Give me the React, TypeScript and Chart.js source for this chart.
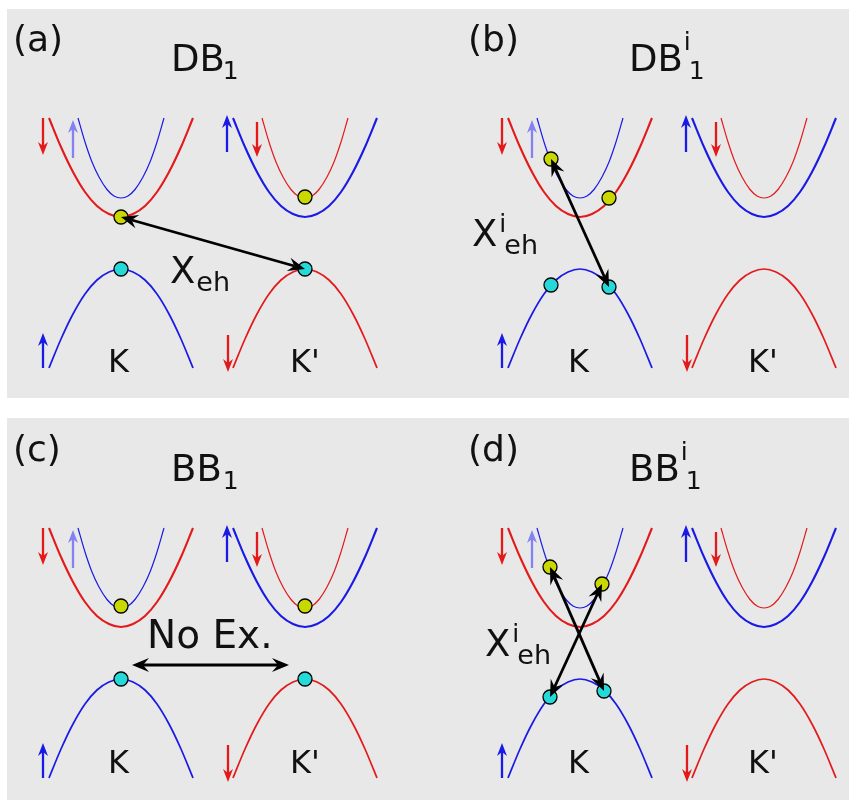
import React, { useEffect, useRef } from 'react';
import { Chart, registerables } from 'chart.js';

Chart.register(...registerables);

// ---------- colours ----------
const RED = '#e41a1a';
const BLUE = '#1a1ae6';
const LIGHT_BLUE = '#8282f2';
const YELLOW = '#c9d800';
const CYAN = '#26d9d9';
const PANEL_GRAY = '#e8e8e8';
const INK = '#111111';

// ---------- band structure data (k from valley centre, E from mid-gap) ----------
const valleyCentres = [0, 184]; // K, K'
const kWide = [-72, -60, -48, -36, -24, -12, 0, 12, 24, 36, 48, 60, 72];
const eLowerConduction = [125, 96, 71, 51, 37, 29, 26, 29, 37, 51, 71, 96, 125];
const eValence = [-125, -96, -71, -51, -37, -29, -26, -29, -37, -51, -71, -96, -125];
const kNarrow = [-43, -36, -29, -22, -14, -7, 0, 7, 14, 22, 29, 36, 43];
const eUpperConduction = [125, 101, 81, 66, 53.5, 47, 45, 47, 53.5, 66, 81, 101, 125];
// colours [lower CB, upper CB, VB] per valley
const bandColoursK = [RED, BLUE, BLUE];
const bandColoursKp = [BLUE, RED, RED];

// ---------- spin arrows ----------
const spinK = [-78, -48, 106, 136, -78, 107];
const spinFrom = [125, 85, 91, 121, -125, -92];
const spinTo = [88, 123, 128, 86, -90, -129];
const spinColours = [RED, LIGHT_BLUE, BLUE, RED, BLUE, RED];

// ---------- per-panel particles (electrons yellow, holes cyan) ----------
const electronsA = [{ x: 0, y: 26 }, { x: 184, y: 46 }];
const holesA = [{ x: 0, y: -26 }, { x: 184, y: -26 }];
const electronsB = [{ x: -29, y: 84 }, { x: 29, y: 45 }];
const holesB = [{ x: -29, y: -42 }, { x: 29, y: -44 }];
const electronsC = [{ x: 0, y: 47 }, { x: 184, y: 47 }];
const holesC = [{ x: 0, y: -26 }, { x: 184, y: -26 }];
const electronsD = [{ x: -30, y: 86 }, { x: 22, y: 69 }];
const holesD = [{ x: -30, y: -44 }, { x: 24, y: -38 }];

// ---------- exciton arrows [k1, E1, k2, E2] ----------
const arrowsA = [[0, 26, 184, -26]];
const arrowsB = [[-29, 84, 29, -44]];
const arrowsC = [[11, -12, 168, -12]];
const arrowsD = [[-30, 86, 24, -38], [22, 69, -30, -44]];

// ---------- labels ----------
type Part = { t: string; s: number; dx?: number; dy?: number; stay?: boolean };
type Label = { x: number; y: number; parts: Part[] };

const labelsA: Label[] = [
  { x: 6, y: 42, parts: [{ t: '(a)', s: 36 }] },
  { x: 164, y: 62, parts: [{ t: 'DB', s: 37 }, { t: '1', s: 25, dx: -2, dy: 8 }] },
  { x: 163, y: 274, parts: [{ t: 'X', s: 37 }, { t: 'eh', s: 27, dx: 1, dy: 8 }] },
  { x: 101, y: 363, parts: [{ t: 'K', s: 32 }] },
  { x: 283, y: 363, parts: [{ t: "K'", s: 32 }] },
];
const labelsB: Label[] = [
  { x: 40, y: 42, parts: [{ t: '(b)', s: 36 }] },
  { x: 201, y: 62, parts: [{ t: 'DB', s: 37 }, { t: 'i', s: 25, dx: 1, dy: -21, stay: true }, { t: '1', s: 25, dx: 6, dy: 8 }] },
  { x: 44, y: 237, parts: [{ t: 'X', s: 37 }, { t: 'i', s: 25, dx: 2, dy: -14, stay: true }, { t: 'eh', s: 27, dx: 7, dy: 8 }] },
  { x: 140, y: 363, parts: [{ t: 'K', s: 32 }] },
  { x: 320, y: 363, parts: [{ t: "K'", s: 32 }] },
];
const labelsC: Label[] = [
  { x: 6, y: 43, parts: [{ t: '(c)', s: 36 }] },
  { x: 164, y: 63, parts: [{ t: 'BB', s: 37 }, { t: '1', s: 25, dx: 1, dy: 8 }] },
  { x: 140, y: 230, parts: [{ t: 'No Ex.', s: 39 }] },
  { x: 101, y: 355, parts: [{ t: 'K', s: 32 }] },
  { x: 283, y: 355, parts: [{ t: "K'", s: 32 }] },
];
const labelsD: Label[] = [
  { x: 40, y: 43, parts: [{ t: '(d)', s: 36 }] },
  { x: 201, y: 63, parts: [{ t: 'BB', s: 37 }, { t: 'i', s: 25, dx: 1, dy: -21, stay: true }, { t: '1', s: 25, dx: 6, dy: 8 }] },
  { x: 57, y: 238, parts: [{ t: 'X', s: 37 }, { t: 'i', s: 25, dx: 2, dy: -14, stay: true }, { t: 'eh', s: 27, dx: 7, dy: 8 }] },
  { x: 140, y: 355, parts: [{ t: 'K', s: 32 }] },
  { x: 320, y: 355, parts: [{ t: "K'", s: 32 }] },
];

// ---------- panel layout ----------
type PanelDef = {
  tag: string;
  left: number; top: number; w: number; h: number;
  xr: [number, number]; yr: [number, number];
  electrons: { x: number; y: number }[];
  holes: { x: number; y: number }[];
  arrows: number[][];
  labels: Label[];
};

const panels: PanelDef[] = [
  { tag: 'a', left: 7, top: 9, w: 421, h: 389, xr: [-114, 307], yr: [-155, 234], electrons: electronsA, holes: holesA, arrows: arrowsA, labels: labelsA },
  { tag: 'b', left: 428, top: 9, w: 421, h: 389, xr: [-152, 269], yr: [-155, 234], electrons: electronsB, holes: holesB, arrows: arrowsB, labels: labelsB },
  { tag: 'c', left: 7, top: 418, w: 421, h: 382, xr: [-114, 307], yr: [-147, 235], electrons: electronsC, holes: holesC, arrows: arrowsC, labels: labelsC },
  { tag: 'd', left: 428, top: 418, w: 421, h: 382, xr: [-152, 269], yr: [-147, 235], electrons: electronsD, holes: holesD, arrows: arrowsD, labels: labelsD },
];

// ---------- drawing helpers ----------
type Head = { len: number; half: number; notch: number };

function fillHead(ctx: CanvasRenderingContext2D, x: number, y: number, ux: number, uy: number, h: Head, color: string) {
  const nx = -uy, ny = ux;
  ctx.beginPath();
  ctx.moveTo(x, y);
  ctx.lineTo(x - ux * h.len + nx * h.half, y - uy * h.len + ny * h.half);
  ctx.lineTo(x - ux * (h.len - h.notch), y - uy * (h.len - h.notch));
  ctx.lineTo(x - ux * h.len - nx * h.half, y - uy * h.len - ny * h.half);
  ctx.closePath();
  ctx.fillStyle = color;
  ctx.fill();
}

function drawArrow(ctx: CanvasRenderingContext2D, x1: number, y1: number, x2: number, y2: number, color: string, width: number, both: boolean, h: Head) {
  const dx = x2 - x1, dy = y2 - y1;
  const L = Math.hypot(dx, dy) || 1;
  const ux = dx / L, uy = dy / L;
  const back = h.len - h.notch;
  const sx = both ? x1 + ux * back : x1;
  const sy = both ? y1 + uy * back : y1;
  ctx.save();
  ctx.strokeStyle = color;
  ctx.lineWidth = width;
  ctx.lineCap = 'butt';
  ctx.beginPath();
  ctx.moveTo(sx, sy);
  ctx.lineTo(x2 - ux * back, y2 - uy * back);
  ctx.stroke();
  fillHead(ctx, x2, y2, ux, uy, h, color);
  if (both) fillHead(ctx, x1, y1, -ux, -uy, h, color);
  ctx.restore();
}

function drawLabel(ctx: CanvasRenderingContext2D, l: Label) {
  let cursor = l.x;
  ctx.save();
  ctx.fillStyle = INK;
  ctx.textAlign = 'left';
  ctx.textBaseline = 'alphabetic';
  l.parts.forEach((p) => {
    ctx.font = `${p.s}px "DejaVu Sans"`;
    const dx = p.dx || 0;
    ctx.fillText(p.t, cursor + dx, l.y + (p.dy || 0));
    if (!p.stay) cursor += dx + ctx.measureText(p.t).width;
  });
  ctx.restore();
}

function curve(points: { x: number; y: number }[], color: string, width: number) {
  return {
    data: points,
    showLine: true,
    borderColor: color,
    borderWidth: width,
    pointRadius: 0,
    cubicInterpolationMode: 'monotone' as const,
    order: 3,
  };
}

function buildDatasets(p: PanelDef) {
  const ds: any[] = [];
  ds.push({
    data: p.electrons,
    pointRadius: 7,
    pointBackgroundColor: YELLOW,
    pointBorderColor: '#000',
    pointBorderWidth: 1.3,
    showLine: false,
    order: 1,
  });
  ds.push({
    data: p.holes,
    pointRadius: 7,
    pointBackgroundColor: CYAN,
    pointBorderColor: '#000',
    pointBorderWidth: 1.3,
    showLine: false,
    order: 1,
  });
  valleyCentres.forEach((c, vi) => {
    const cols = vi === 0 ? bandColoursK : bandColoursKp;
    ds.push(curve(kWide.map((k, i) => ({ x: c + k, y: eLowerConduction[i] })), cols[0], 2.1));
    ds.push(curve(kNarrow.map((k, i) => ({ x: c + k, y: eUpperConduction[i] })), cols[1], 1.2));
    ds.push(curve(kWide.map((k, i) => ({ x: c + k, y: eValence[i] })), cols[2], 1.7));
  });
  return ds;
}

function makeOverlay(p: PanelDef) {
  return {
    id: 'overlay_' + p.tag,
    beforeDraw(chart: any) {
      const ctx = chart.ctx as CanvasRenderingContext2D;
      ctx.save();
      ctx.fillStyle = PANEL_GRAY;
      ctx.fillRect(0, 0, chart.width, chart.height);
      ctx.restore();
    },
    afterDatasetsDraw(chart: any) {
      const ctx = chart.ctx as CanvasRenderingContext2D;
      const xs = chart.scales.x;
      const ys = chart.scales.y;
      spinK.forEach((k, i) => {
        const x = xs.getPixelForValue(k);
        drawArrow(ctx, x, ys.getPixelForValue(spinFrom[i]), x, ys.getPixelForValue(spinTo[i]), spinColours[i], 2.3, false, { len: 13, half: 5, notch: 4 });
      });
      p.arrows.forEach((a) => {
        drawArrow(
          ctx,
          xs.getPixelForValue(a[0]), ys.getPixelForValue(a[1]),
          xs.getPixelForValue(a[2]), ys.getPixelForValue(a[3]),
          '#000', 2.8, true, { len: 17, half: 7, notch: 6 }
        );
      });
    },
    afterDraw(chart: any) {
      const ctx = chart.ctx as CanvasRenderingContext2D;
      p.labels.forEach((l) => drawLabel(ctx, l));
    },
  };
}

function Panel({ p }: { p: PanelDef }) {
  const ref = useRef<HTMLCanvasElement | null>(null);
  useEffect(() => {
    if (!ref.current) return;
    const chart = new Chart(ref.current, {
      type: 'scatter',
      data: { datasets: buildDatasets(p) },
      options: {
        responsive: false,
        animation: false,
        events: [],
        layout: { padding: 0, autoPadding: false } as any,
        plugins: { legend: { display: false }, tooltip: { enabled: false }, title: { display: false } },
        scales: {
          x: { type: 'linear', display: false, min: p.xr[0], max: p.xr[1] },
          y: { type: 'linear', display: false, min: p.yr[0], max: p.yr[1] },
        },
      },
      plugins: [makeOverlay(p)],
    });
    return () => chart.destroy();
  }, [p]);
  return (
    <canvas
      ref={ref}
      width={p.w}
      height={p.h}
      style={{ position: 'absolute', left: p.left, top: p.top, width: p.w, height: p.h }}
    />
  );
}

export default function App() {
  return (
    <div style={{ position: 'absolute', left: 0, top: 0, width: 856, height: 800, background: '#ffffff', overflow: 'hidden' }}>
      {panels.map((p) => (
        <Panel key={p.tag} p={p} />
      ))}
    </div>
  );
}
